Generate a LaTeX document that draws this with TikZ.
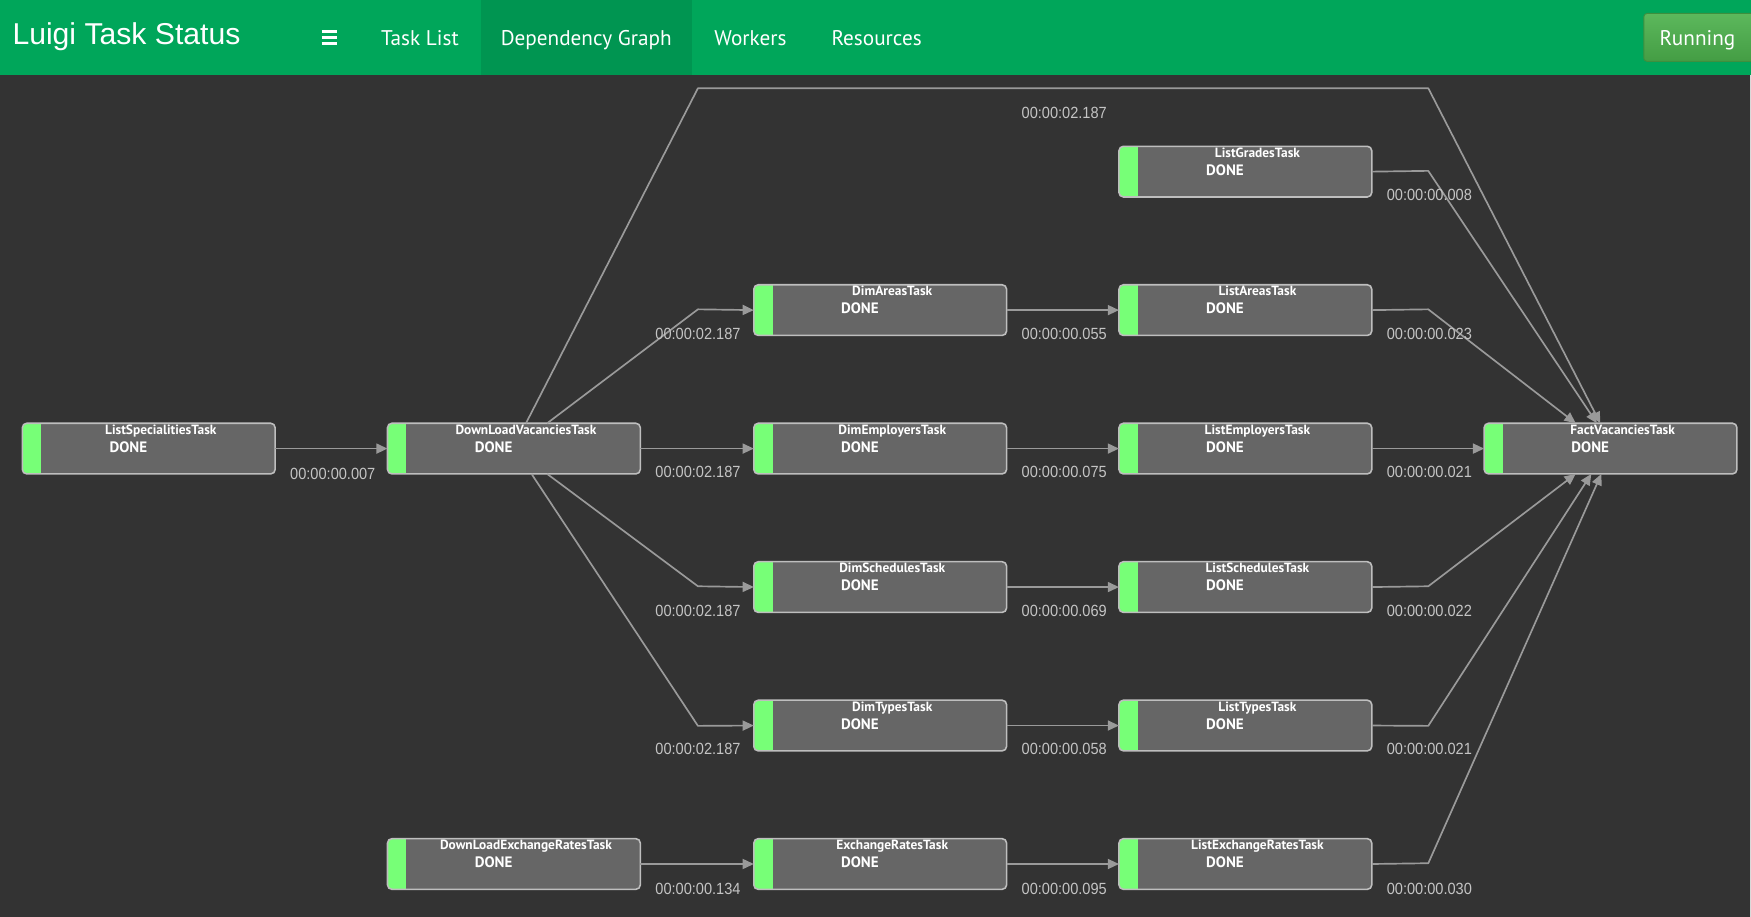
\documentclass[tikz,border=0pt]{standalone}
\usepackage{fontspec}
\setmainfont{PT Sans}
\newfontfamily\titlefont{Liberation Sans}
\newfontfamily\lblfont[FakeStretch=0.9]{Liberation Sans}
\usetikzlibrary{arrows.meta,calc}
\definecolor{hdrgreen}{HTML}{00A65A}
\definecolor{hdractive}{HTML}{009551}
\definecolor{btntop}{HTML}{5CB85C}
\definecolor{btnbot}{HTML}{449D44}
\definecolor{btnborder}{HTML}{3E8F3E}
\definecolor{bgdark}{HTML}{333333}
\definecolor{boxgray}{HTML}{666666}
\definecolor{boxline}{HTML}{BEBEBE}
\definecolor{donegreen}{HTML}{77FF77}
\definecolor{linegray}{HTML}{9A9A9A}
\definecolor{lblgray}{HTML}{C4C4C4}
\tikzset{
  taskbox/.style={rectangle, minimum width=226pt, minimum height=45pt, inner sep=0pt, fill=boxgray, rounded corners=4pt},
  boxborder/.style={draw=boxline, line width=1.4pt, rounded corners=4pt},
  donebar/.style={fill=donegreen},
  tasktitle/.style={text=white, font=\bfseries\fontsize{12}{13}\selectfont, inner sep=0pt, anchor=base},
  taskstate/.style={text=white, font=\bfseries\fontsize{13.5}{15}\selectfont, inner sep=0pt, anchor=base},
  edge/.style={draw=linegray, line width=1.5pt, line join=round, -{Triangle[length=10pt,width=9pt]}},
  timelbl/.style={text=lblgray, font=\lblfont\fontsize{14.5}{16}\selectfont, inner sep=0pt},
  navitem/.style={text=white, font=\fontsize{19}{22}\selectfont, inner sep=0pt, anchor=base},
}
\newcommand\tasknode[4]{%
  \node[taskbox, anchor=north west] (#1) at (#2,#3) {};
  \begin{scope}
    \clip[rounded corners=4pt] (#1.south west) rectangle (#1.north east);
    \fill[donebar] (#1.south west) rectangle ($(#1.north west)+(17,0)$);
  \end{scope}
  \draw[boxborder] (#1.south west) rectangle (#1.north east);
  \node[tasktitle] (#1-t) at ($(#1.north west)+(124,10)$) {#4};
  \node[taskstate] (#1-s) at ($(#1.north west)+(95,26)$) {DONE};
}
\begin{document}
\begin{tikzpicture}[x=1pt, y=-1pt]
\useasboundingbox (0,0) rectangle (1568,821);
% background
\fill[bgdark] (0,0) rectangle (1568,821);
\draw[white!85!black, line width=1pt] (1567.5,67) -- (1567.5,821);
% header
\fill[hdrgreen] (0,0) rectangle (1568,67);
\fill[hdractive] (431,0) rectangle (620,67);
\node[text=white, font=\titlefont\fontsize{27}{30}\selectfont, anchor=base west, inner sep=0pt] (brand) at (11,40) {Luigi Task Status};
\draw[white, line width=3pt] (288,28) -- (302,28) (288,33.5) -- (302,33.5) (288,39) -- (302,39);
\node[navitem] (nav1) at (376,41) {Task List};
\node[navitem] (nav2) at (525,41) {Dependency Graph};
\node[navitem] (nav3) at (672,41) {Workers};
\node[navitem] (nav4) at (785,41) {Resources};
\shade[top color=btntop, bottom color=btnbot, rounded corners=3pt] (1472,12) rectangle (1575,55);
\draw[btnborder, line width=0.8pt, rounded corners=3pt] (1472,12) rectangle (1575,55);
\node[navitem] (running) at (1520,41) {Running};
% tasks
\tasknode{lg}{1002}{131}{ListGradesTask}
\tasknode{da}{675}{255}{DimAreasTask}
\tasknode{la}{1002}{255}{ListAreasTask}
\tasknode{ls}{20}{379}{ListSpecialitiesTask}
\tasknode{dv}{347}{379}{DownLoadVacanciesTask}
\tasknode{de}{675}{379}{DimEmployersTask}
\tasknode{le}{1002}{379}{ListEmployersTask}
\tasknode{fv}{1329}{379}{FactVacanciesTask}
\tasknode{ds}{675}{503}{DimSchedulesTask}
\tasknode{lsc}{1002}{503}{ListSchedulesTask}
\tasknode{dt}{675}{627}{DimTypesTask}
\tasknode{lt}{1002}{627}{ListTypesTask}
\tasknode{dx}{347}{751}{DownLoadExchangeRatesTask}
\tasknode{ex}{675}{751}{ExchangeRatesTask}
\tasknode{lx}{1002}{751}{ListExchangeRatesTask}
% edges
\draw[edge] (ls.east) -- (dv.west);
\node[timelbl] (t1) at (298,424) {00:00:00.007};
\draw[edge] ($(dv.north west)+(143,0)$) -- (625,277) -- (da.west);
\node[timelbl] (t2) at (625,299) {00:00:02.187};
\draw[edge] (dv.east) -- (de.west);
\node[timelbl] (t3) at (625,423) {00:00:02.187};
\draw[edge] ($(dv.south west)+(143,0)$) -- (625,525) -- (ds.west);
\node[timelbl] (t4) at (625,547) {00:00:02.187};
\draw[edge] ($(dv.south west)+(129,0)$) -- (625,650) -- (dt.west);
\node[timelbl] (t5) at (625,671) {00:00:02.187};
\draw[edge] ($(dv.north west)+(124,0)$) -- (625,79) -- (1279,79) -- ($(fv.north west)+(104,0)$);
\node[timelbl] (t6) at (953,101) {00:00:02.187};
\draw[edge] (da.east) -- (la.west);
\node[timelbl] (t7) at (953,299) {00:00:00.055};
\draw[edge] (de.east) -- (le.west);
\node[timelbl] (t8) at (953,423) {00:00:00.075};
\draw[edge] (ds.east) -- (lsc.west);
\node[timelbl] (t9) at (953,547) {00:00:00.069};
\draw[edge] (dt.east) -- (lt.west);
\node[timelbl] (t10) at (953,671) {00:00:00.058};
\draw[edge] (dx.east) -- (ex.west);
\node[timelbl] (t11) at (625,796) {00:00:00.134};
\draw[edge] (ex.east) -- (lx.west);
\node[timelbl] (t12) at (953,796) {00:00:00.095};
\draw[edge] (lg.east) -- (1279,153) -- ($(fv.north west)+(101,0)$);
\node[timelbl] (t13) at (1280,175) {00:00:00.008};
\draw[edge] (la.east) -- (1279,277) -- ($(fv.north west)+(82,0)$);
\node[timelbl] (t14) at (1280,299) {00:00:00.023};
\draw[edge] (le.east) -- (fv.west);
\node[timelbl] (t15) at (1280,423) {00:00:00.021};
\draw[edge] (lsc.east) -- (1279,525) -- ($(fv.south west)+(82,0)$);
\node[timelbl] (t16) at (1280,547) {00:00:00.022};
\draw[edge] (lt.east) -- (1279,650) -- ($(fv.south west)+(96,0)$);
\node[timelbl] (t17) at (1280,671) {00:00:00.021};
\draw[edge] (lx.east) -- (1279,773) -- ($(fv.south west)+(105,0)$);
\node[timelbl] (t18) at (1280,796) {00:00:00.030};
\end{tikzpicture}
\end{document}
